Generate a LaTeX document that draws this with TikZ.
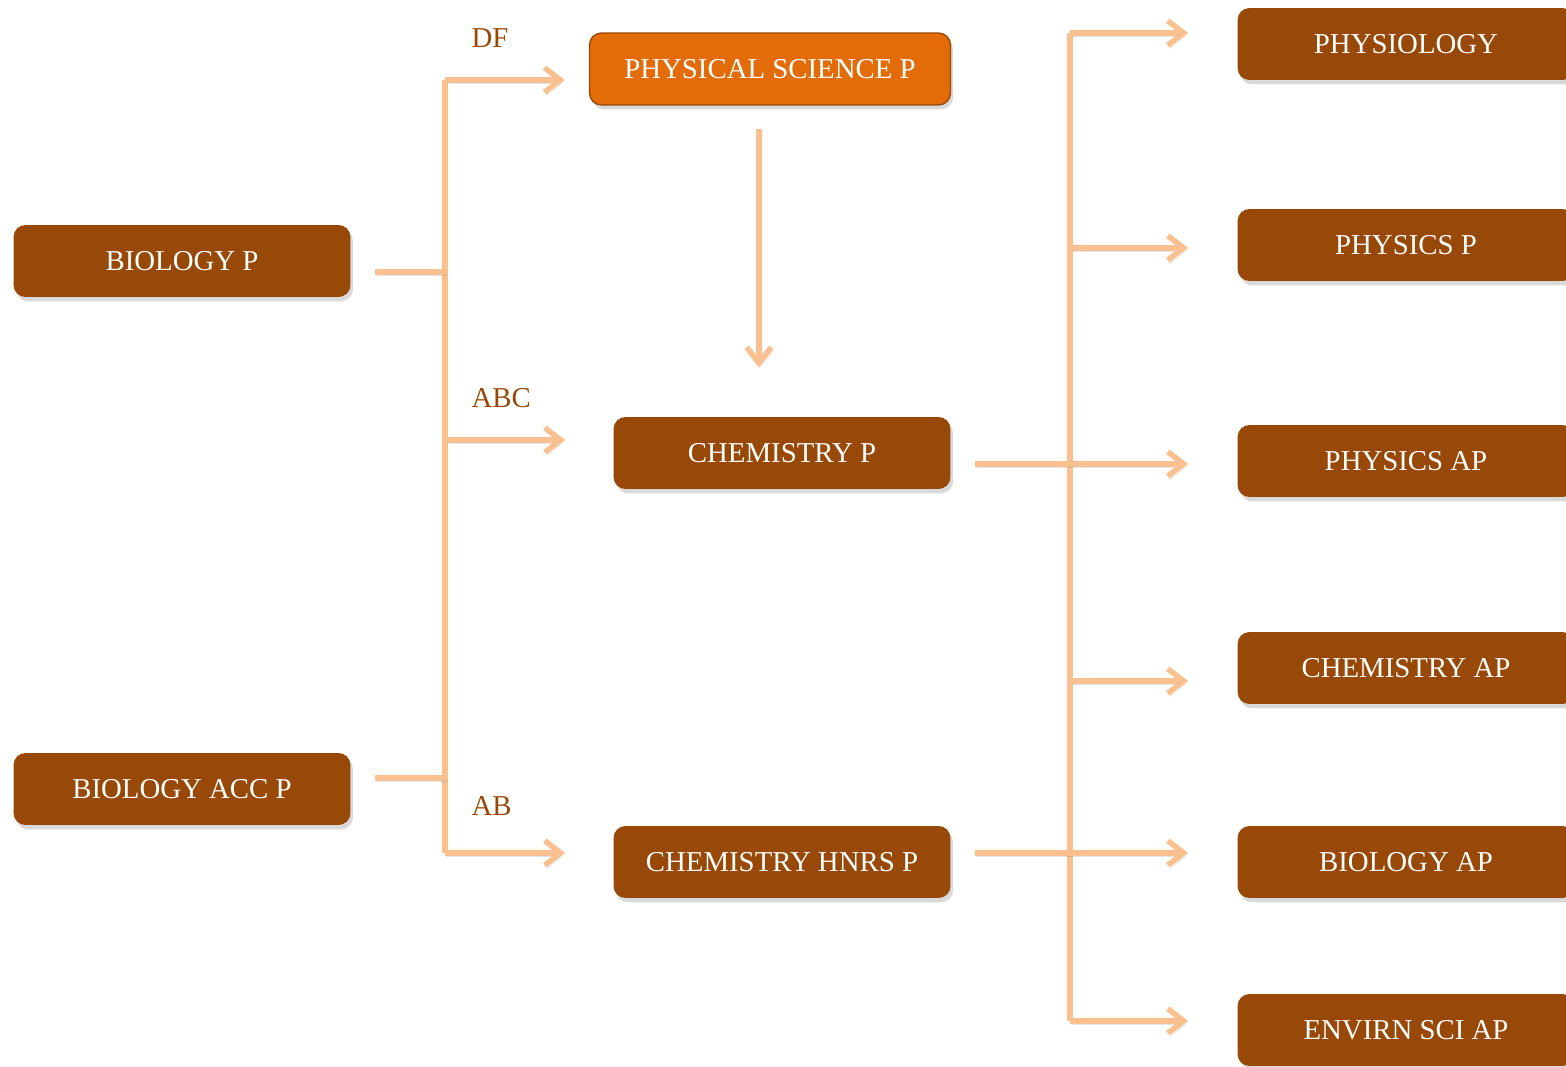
\documentclass[tikz,border=0pt]{standalone}
\usepackage{fontspec}
\setmainfont{Liberation Serif}
\usetikzlibrary{arrows.meta,shadows}

\definecolor{coursebrown}{HTML}{984807}
\definecolor{courseorange}{HTML}{E36C09}
\definecolor{linkpeach}{HTML}{FAC090}

\tikzset{
  course/.style={fill=coursebrown, text=white, rounded corners=0.24cm,
    minimum width=6.74cm, minimum height=1.44cm,
    font=\fontsize{16.4}{20}\selectfont,
    drop shadow={opacity=.3, shadow xshift=1.5pt, shadow yshift=-2.5pt}},
  link/.style={draw=linkpeach, line width=3.2pt,
    preaction={draw=black, opacity=.1, transform canvas={xshift=1pt, yshift=-2pt}}},
  arr/.style={link, -{Straight Barb[length=9pt, width=14pt]}},
  tag/.style={text=coursebrown, font=\fontsize{16.4}{20}\selectfont, anchor=west, pos=0, xshift=0.36cm}
}

\begin{document}
\begin{tikzpicture}[x=0.02cm, y=-0.02cm]
    \useasboundingbox (0,0) rectangle (1566,1067);
    % courses
    \node[course](bio)at(182,261){BIOLOGY P};
    \node[course](bioacc)at(182,789){BIOLOGY ACC P};
    \node[course, fill=courseorange, draw=coursebrown, thick, minimum width=7.22cm](physsci)at(770,69){PHYSICAL SCIENCE P};
    \node[course](chem)at(782,453){CHEMISTRY P};
    \node[course](chemh)at(782,862){CHEMISTRY HNRS P};
    \node[course](physio)at(1406,44){PHYSIOLOGY};
    \node[course](physp)at(1406,245){PHYSICS P};
    \node[course](physap)at(1406,461){PHYSICS AP};
    \node[course](chemap)at(1406,668){CHEMISTRY AP};
    \node[course](bioap)at(1406,862){BIOLOGY AP};
    \node[course](envsci)at(1406,1030){ENVIRN SCI AP};
    % left side
    \coordinate(jL1)at(445,272);
    \coordinate(jL2)at(445,778);
    \draw[link](445,80)--(445,853);
    \draw[link, shorten <=0.48cm](bio.east |- jL1)--(jL1);
    \draw[link, shorten <=0.48cm](bioacc.east |- jL2)--(jL2);
    \draw[arr, shorten >=0.48cm](445,80)--(physsci.west |- 445,80)node[tag, yshift=0.84cm]{DF};
    \draw[arr, shorten >=0.96cm](445,440)--(chem.west |- 445,440)node[tag, yshift=0.84cm]{ABC};
    \draw[arr, shorten >=0.96cm](445,853)--(chemh.west |- 445,853)node[tag, yshift=0.94cm]{AB};
    \draw[arr, shorten <=0.46cm, shorten >=0.98cm](physsci.south -| 759,0)--(chem.north -| 759,0);
    % right side
    \coordinate(jR1)at(1070,464);
    \coordinate(jR2)at(1070,853);
    \draw[link](1070,33)--(1070,1021);
    \draw[link, shorten <=0.48cm](chem.east |- jR1)--(jR1);
    \draw[link, shorten <=0.48cm](chemh.east |- jR2)--(jR2);
    \foreach \t/\y in {physio/33, physp/248, physap/464, chemap/681, bioap/853, envsci/1021}
        \draw[arr, shorten >=0.98cm](1070,\y)--(\t.west |- 1070,\y);
\end{tikzpicture}
\end{document}
